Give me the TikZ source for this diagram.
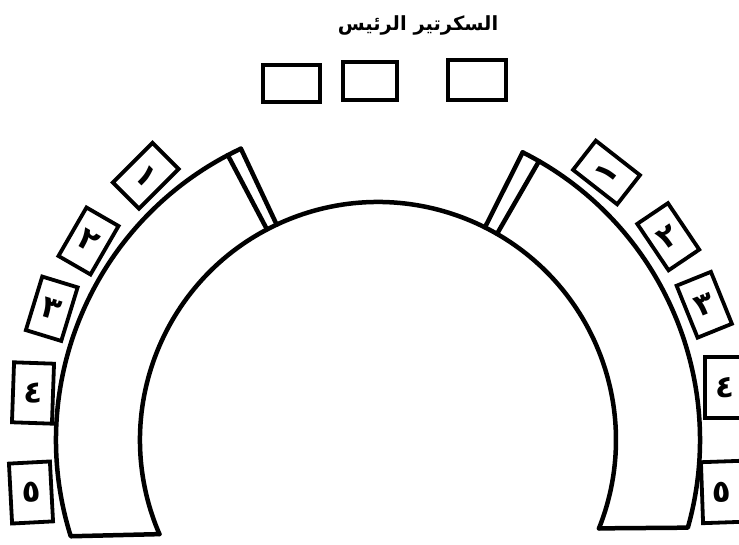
\documentclass[tikz,border=0pt]{standalone}
\usepackage{fontspec}
\newfontfamily\arabicfont[Script=Arabic]{DejaVu Sans}
\TeXXeTstate=1
\begin{document}
\begin{tikzpicture}[x=1pt,y=1pt,
  hall/.style={line width=4.5pt,line join=round,line cap=round},
  seat/.style={draw,line width=3.8pt,inner sep=0pt,line join=miter},
  sideseat/.style={seat,minimum width=37pt,minimum height=56pt,font=\arabicfont\bfseries\fontsize{31}{31}\selectfont},
  topseat/.style={seat}]
\clip (0,0) rectangle (739,545);
\useasboundingbox (0,0) rectangle (739,545);
\coordinate (C) at (378,105);
% title
\node[font=\arabicfont\bfseries\fontsize{19.5}{19.5}\selectfont] (title) at (418,520) {\beginR السكرتير الرئيس\endR};
% top seats
\node[topseat,minimum width=57pt,minimum height=37pt] (t1) at (291.5,461.5) {};
\node[topseat,minimum width=54pt,minimum height=38pt] (t2) at (370,464) {};
\node[topseat,minimum width=58pt,minimum height=40pt] (t3) at (477,465) {};
% inner arc
\draw[hall] ([shift={(203.3:238)}]C) arc[start angle=203.3,end angle=-21.8,radius=238];
% left wing
\draw[hall] ([shift={(115.2:322)}]C) arc[start angle=115.2,end angle=197.4,radius=322]
  -- ([shift={(203.3:238)}]C);
\draw[hall] ([shift={(117.8:322)}]C) -- ([shift={(117.8:238)}]C);
\draw[hall] ([shift={(115.2:322)}]C) -- ([shift={(115.2:238)}]C);
% right wing
\draw[hall] ([shift={(63.3:322)}]C) arc[start angle=63.3,end angle=-15.8,radius=322]
  -- ([shift={(-21.8:238)}]C);
\draw[hall] ([shift={(63.3:322)}]C) -- ([shift={(63.3:238)}]C);
\draw[hall] ([shift={(60:322)}]C) -- ([shift={(60:238)}]C);
% left seats
\node[sideseat,rotate=-45] (l1) at (145.75,369.25) {١};
\node[sideseat,rotate=-30] (l2) at (88.5,304) {٢};
\node[sideseat,rotate=-17] (l3) at (51.75,236.25) {٣};
\node[sideseat,rotate=-2,minimum width=40pt,minimum height=60pt] (l4) at (33,152) {٤};
\node[sideseat,rotate=3,minimum width=41pt,minimum height=60pt] (l5) at (31,52.5) {٥};
% right seats
\node[sideseat,rotate=52] (r1) at (606.5,372.5) {١};
\node[sideseat,rotate=34] (r2) at (668.25,308.25) {٢};
\node[sideseat,rotate=22] (r3) at (704.25,240.25) {٣};
\node[sideseat,rotate=0,minimum width=40pt,minimum height=61pt] (r4) at (725,157.5) {٤};
\node[sideseat,rotate=2,minimum width=40pt,minimum height=61pt] (r5) at (722,53) {٥};
\end{tikzpicture}
\end{document}
